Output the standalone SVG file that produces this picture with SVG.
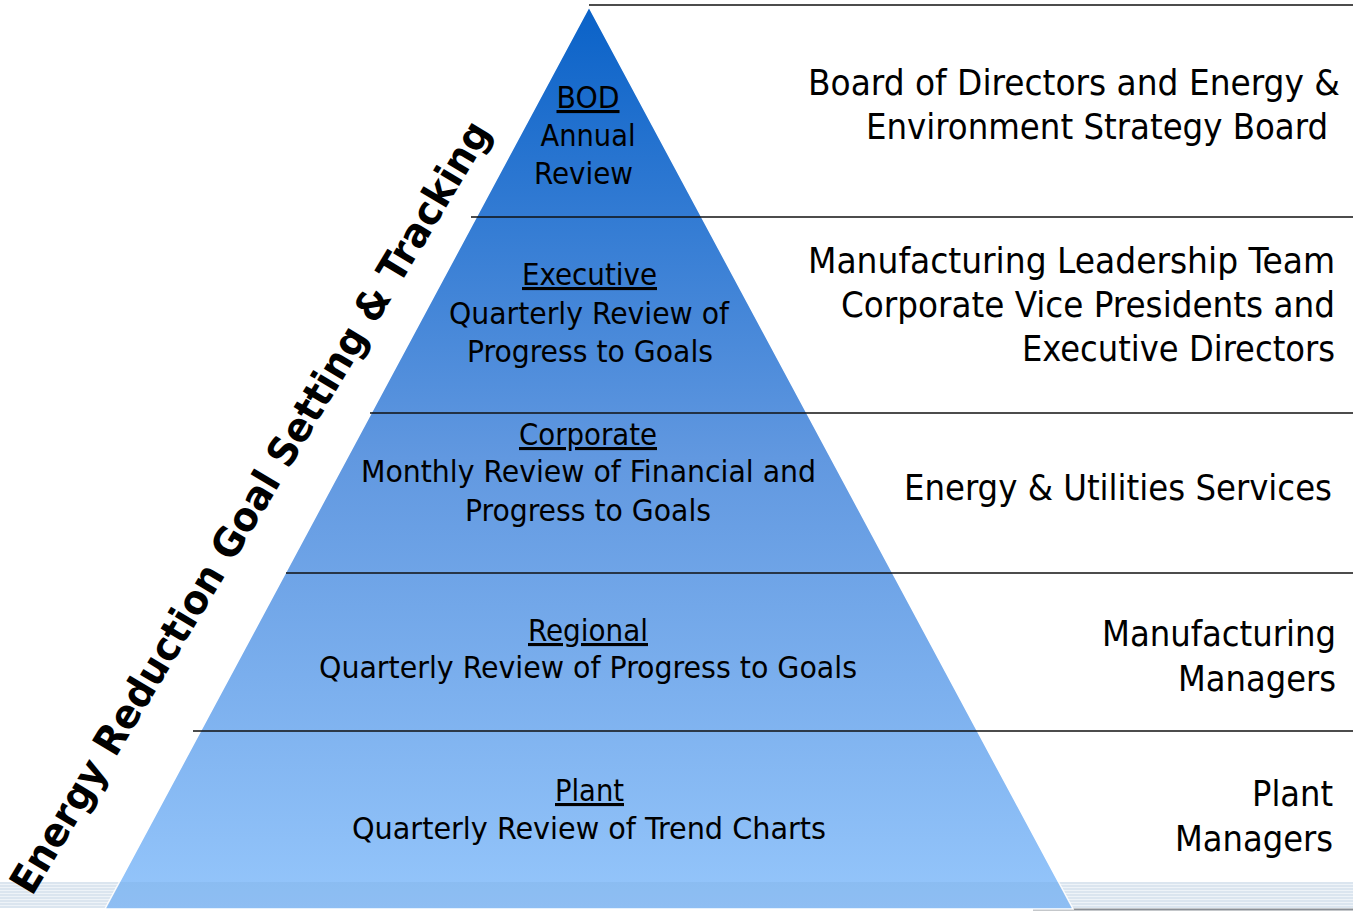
<svg xmlns="http://www.w3.org/2000/svg" width="1353" height="911" viewBox="0 0 1353 911">
  <defs>
    <linearGradient id="pyrFill" x1="0" y1="7" x2="0" y2="909" gradientUnits="userSpaceOnUse">
      <stop offset="0" stop-color="#0a62c8"/>
      <stop offset="0.5" stop-color="#6198e0"/>
      <stop offset="1" stop-color="#95c6fb"/>
    </linearGradient>
    <pattern id="stripes" x="0" y="0" width="8" height="3" patternUnits="userSpaceOnUse">
      <rect width="8" height="3" fill="#dbe5ef"/>
      <rect y="2" width="8" height="1" fill="#eef3f8"/>
    </pattern>
    <clipPath id="pyrClip">
      <polygon points="589,7 1073,909 105,909"/>
    </clipPath>
  </defs>
  <style>
    .lbl { font-family: "DejaVu Sans Condensed", "DejaVu Sans", sans-serif; fill: #000; }
    .right { font-size: 36px; text-anchor: end; }
    .tier { font-size: 31px; text-anchor: middle; }
    .head { text-decoration: underline; }
    .rule { stroke: #111; stroke-width: 1.5; fill: none; }
    .side { font-family: "DejaVu Sans", sans-serif; font-weight: bold; font-size: 40px; fill: #000; }
  </style>

  <rect width="1353" height="911" fill="#fff"/>

  <!-- striped floor band -->
  <rect x="0" y="882" width="1353" height="26" fill="url(#stripes)"/>
  <line x1="1033" y1="909.5" x2="1353" y2="909.5" stroke="#8a8f96" stroke-width="2"/>

  <!-- pyramid body -->
  <g id="pyramid">
    <polygon points="589,7 1073,909 105,909" fill="url(#pyrFill)" stroke="#fff" stroke-width="1.5"/>
    <rect x="0" y="882" width="1353" height="26" fill="#1d3d66" opacity="0.05" clip-path="url(#pyrClip)"/>
  </g>

  <!-- tier separators -->
  <g id="connectors">
    <line class="rule" x1="589" y1="5" x2="1353" y2="5"/>
    <line class="rule" x1="471" y1="217" x2="1353" y2="217"/>
    <line class="rule" x1="370" y1="413" x2="1353" y2="413"/>
    <line class="rule" x1="286" y1="573" x2="1353" y2="573"/>
    <line class="rule" x1="193" y1="731" x2="1353" y2="731"/>
  </g>

  <!-- tier: BOD -->
  <g id="tier-bod" class="lbl tier">
    <text x="588" y="108" class="head" textLength="63" lengthAdjust="spacingAndGlyphs">BOD</text>
    <text x="588" y="146" textLength="95" lengthAdjust="spacingAndGlyphs">Annual</text>
    <text x="583.5" y="184" textLength="99" lengthAdjust="spacingAndGlyphs">Review</text>
  </g>

  <!-- tier: Executive -->
  <g id="tier-executive" class="lbl tier">
    <text x="589.5" y="285" class="head" textLength="135" lengthAdjust="spacingAndGlyphs">Executive</text>
    <text x="589" y="324" textLength="280" lengthAdjust="spacingAndGlyphs">Quarterly Review of</text>
    <text x="590" y="362" textLength="246" lengthAdjust="spacingAndGlyphs">Progress to Goals</text>
  </g>

  <!-- tier: Corporate -->
  <g id="tier-corporate" class="lbl tier">
    <text x="588" y="445" class="head" textLength="138" lengthAdjust="spacingAndGlyphs">Corporate</text>
    <text x="588.5" y="482" textLength="455" lengthAdjust="spacingAndGlyphs">Monthly Review of Financial and</text>
    <text x="588" y="521" textLength="246" lengthAdjust="spacingAndGlyphs">Progress to Goals</text>
  </g>

  <!-- tier: Regional -->
  <g id="tier-regional" class="lbl tier">
    <text x="588" y="641" class="head" textLength="120" lengthAdjust="spacingAndGlyphs">Regional</text>
    <text x="588" y="678" textLength="538" lengthAdjust="spacingAndGlyphs">Quarterly Review of Progress to Goals</text>
  </g>

  <!-- tier: Plant -->
  <g id="tier-plant" class="lbl tier">
    <text x="589.5" y="801" class="head" textLength="69" lengthAdjust="spacingAndGlyphs">Plant</text>
    <text x="589" y="839" textLength="474" lengthAdjust="spacingAndGlyphs">Quarterly Review of Trend Charts</text>
  </g>

  <!-- responsible bodies -->
  <g id="role-board" class="lbl right">
    <text x="1340" y="95" textLength="532" lengthAdjust="spacingAndGlyphs">Board of Directors and Energy &amp;</text>
    <text x="1328" y="139" textLength="462" lengthAdjust="spacingAndGlyphs">Environment Strategy Board</text>
  </g>
  <g id="role-leadership" class="lbl right">
    <text x="1335" y="273" textLength="527" lengthAdjust="spacingAndGlyphs">Manufacturing Leadership Team</text>
    <text x="1335" y="317" textLength="494" lengthAdjust="spacingAndGlyphs">Corporate Vice Presidents and</text>
    <text x="1335" y="361" textLength="313" lengthAdjust="spacingAndGlyphs">Executive Directors</text>
  </g>
  <g id="role-utilities" class="lbl right">
    <text x="1332" y="500" textLength="428" lengthAdjust="spacingAndGlyphs">Energy &amp; Utilities Services</text>
  </g>
  <g id="role-mfg" class="lbl right">
    <text x="1336" y="646" textLength="234" lengthAdjust="spacingAndGlyphs">Manufacturing</text>
    <text x="1336" y="691" textLength="158" lengthAdjust="spacingAndGlyphs">Managers</text>
  </g>
  <g id="role-plant" class="lbl right">
    <text x="1333" y="806" textLength="81" lengthAdjust="spacingAndGlyphs">Plant</text>
    <text x="1333" y="851" textLength="158" lengthAdjust="spacingAndGlyphs">Managers</text>
  </g>

  <!-- slanted title along the pyramid flank -->
  <g id="side-title">
    <text class="side" transform="translate(32,897) rotate(-59)" textLength="893" lengthAdjust="spacingAndGlyphs">Energy Reduction Goal Setting &amp; Tracking</text>
  </g>
</svg>
